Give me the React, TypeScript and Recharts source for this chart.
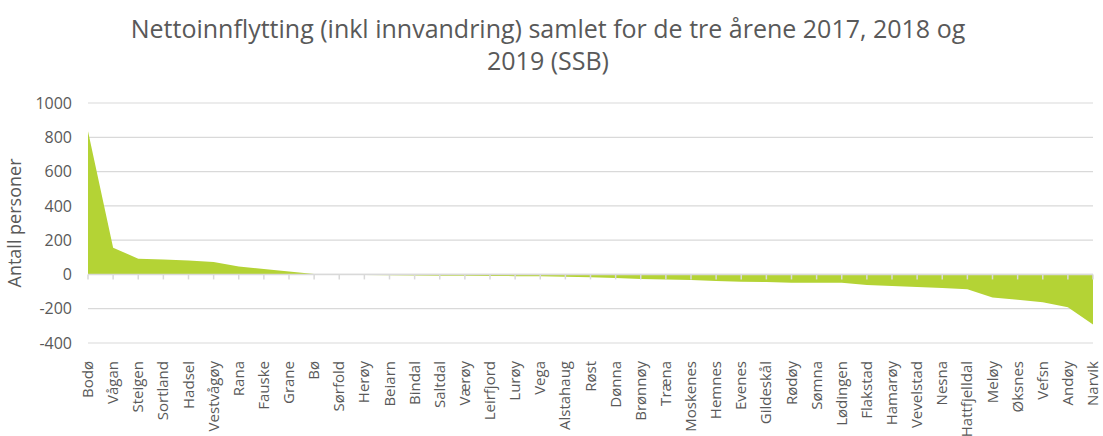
import { AreaChart, Area, XAxis, YAxis, CartesianGrid, ReferenceLine } from 'recharts'

const kommuner = [
  'Bodø', 'Vågan', 'Steigen', 'Sortland', 'Hadsel', 'Vestvågøy', 'Rana', 'Fauske', 'Grane', 'Bø',
  'Sørfold', 'Herøy', 'Beiarn', 'Bindal', 'Saltdal', 'Værøy', 'Leirfjord', 'Lurøy', 'Vega', 'Alstahaug',
  'Røst', 'Dønna', 'Brønnøy', 'Træna', 'Moskenes', 'Hemnes', 'Evenes', 'Gildeskål', 'Rødøy', 'Sømna',
  'Lødingen', 'Flakstad', 'Hamarøy', 'Vevelstad', 'Nesna', 'Hattfjelldal', 'Meløy', 'Øksnes', 'Vefsn', 'Andøy',
  'Narvik',
]

const netto = [
  835, 156, 92, 87, 81, 73, 46, 31, 17, 3,
  -2, -4, -5, -6, -7, -8, -9, -10, -11, -13,
  -17, -21, -26, -29, -33, -38, -42, -44, -48, -48,
  -48, -62, -67, -73, -79, -87, -135, -148, -163, -192,
  -292,
]

const yTicks = [-400, -200, 0, 200, 400, 600, 800, 1000]

const tittel = ['Nettoinnflytting (inkl innvandring) samlet for de tre årene 2017, 2018 og', '2019 (SSB)']

const data = kommuner.map((k, i) => ({ kommune: k, verdi: netto[i] }))

const font = '"Open Sans", sans-serif'
const grey = '#595959'

function KommuneTick(props: any) {
  const { x, y, payload } = props
  const tx = x + 5
  const ty = y + 10
  return (
    <text x={tx} y={ty} transform={`rotate(-90, ${tx}, ${ty})`} textAnchor="end"
      fontSize={15} fill={grey} fontFamily={font}>
      {payload.value}
    </text>
  )
}

// zero line with the small category ticks hanging below it
function ZeroLine(props: any) {
  const { x1, y1, x2 } = props
  const step = (x2 - x1) / (kommuner.length - 1)
  return (
    <g>
      <line x1={x1} y1={y1} x2={x2} y2={y1} stroke="#d9d9d9" strokeWidth={1.5} />
      {kommuner.map((k, i) => (
        <line key={k} x1={x1 + i * step} x2={x1 + i * step} y1={y1} y2={y1 + 5} stroke="#d9d9d9" strokeWidth={1.5} />
      ))}
    </g>
  )
}

export default function App() {
  return (
    <div style={{ position: 'absolute', left: 0, top: 0, width: 1103, height: 436, background: '#fff', overflow: 'hidden' }}>
      <div style={{ position: 'absolute', left: 0, top: 12, width: 1096, textAlign: 'center', fontFamily: font, fontSize: 25, color: grey, lineHeight: '32px' }}>
        <div>{tittel[0]}</div>
        <div>{tittel[1]}</div>
      </div>
      <AreaChart width={1103} height={436} data={data} margin={{ top: 103, right: 10, left: 0, bottom: 0 }}>
        <CartesianGrid vertical={false} stroke="#d9d9d9" strokeWidth={1.2} />
        <XAxis dataKey="kommune" interval={0} height={93} axisLine={false} tickLine={false}
          tick={<KommuneTick />} padding={{ left: 0, right: 0 }} />
        <YAxis domain={[-400, 1000]} ticks={yTicks} width={88} axisLine={false} tickLine={false}
          tickSize={0} tickMargin={16} tick={{ fontSize: 16, fill: grey, fontFamily: font }}
          label={{ value: 'Antall personer', angle: -90, position: 'insideLeft', offset: 15,
            style: { textAnchor: 'middle', fontSize: 18, fill: grey, fontFamily: font } }} />
        <Area type="linear" dataKey="verdi" stroke="none" fill="#b4d335" fillOpacity={1} isAnimationActive={false} />
        <ReferenceLine y={0} shape={<ZeroLine />} />
      </AreaChart>
    </div>
  )
}
